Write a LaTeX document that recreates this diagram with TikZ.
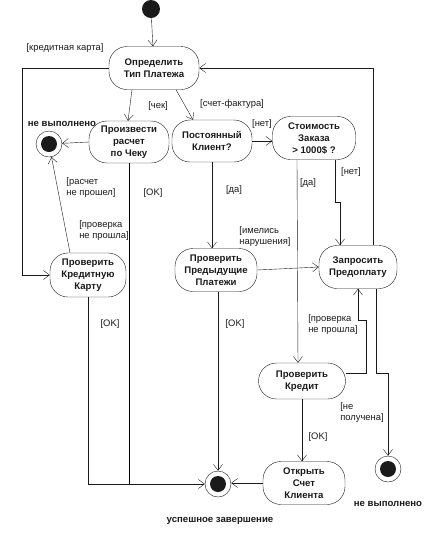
\documentclass[tikz,border=0pt]{standalone}
\usepackage{fontspec}
\setmainfont{Liberation Sans}
\usetikzlibrary{arrows.meta,calc,positioning}
\definecolor{ink}{HTML}{1A1A1A}
\tikzset{>={Straight Barb[length=6pt,width=9pt]},line width=1pt,
  every node/.style={font=\fontsize{9.4}{11}\selectfont,text=ink},
  activity/.style={draw=ink,rounded corners=18pt,align=center,inner sep=1pt,
    font=\fontsize{9.6}{12}\selectfont\bfseries},
  initial/.style={circle,fill=ink,minimum size=18pt,inner sep=0pt},
  final/.style={circle,draw=ink,minimum size=26pt,inner sep=0pt,
    path picture={\fill[ink] (path picture bounding box.center) circle (8pt);}},
  flow/.style={->,draw=ink},
  guard/.style={align=left,inner sep=1pt},
  endlabel/.style={font=\fontsize{9.6}{11}\selectfont\bfseries}}

\begin{document}
\begin{tikzpicture}[x=1pt,y=-1pt]
\useasboundingbox (0,0) rectangle (437,542);
\node[initial] (start) at (151,9) {};
\node[activity,minimum width=90pt,minimum height=43pt] (opred) at (154,68) {Определить\\Тип Платежа};
\node[activity,minimum width=80pt,minimum height=42pt] (proizv) at (129,142) {Произвести\\расчет\\по Чеку};
\node[activity,minimum width=80pt,minimum height=42pt] (postoyan) at (212,141) {Постоянный\\Клиент?};
\node[activity,minimum width=83pt,minimum height=43pt] (stoim) at (314,138) {Стоимость\\Заказа\\> 1000\$ ?};
\node[activity,minimum width=76pt,minimum height=44pt] (karta) at (88,275) {Проверить\\Кредитную\\Карту};
\node[activity,minimum width=82pt,minimum height=43pt] (predyd) at (216,270) {Проверить\\Предыдущие\\Платежи};
\node[activity,minimum width=78pt,minimum height=43pt] (zapros) at (358,267) {Запросить\\Предоплату};
\node[activity,minimum width=87pt,minimum height=36pt] (kredit) at (302,381) {Проверить\\Кредит};
\node[activity,minimum width=82pt,minimum height=43pt] (otkryt) at (304,483) {Открыть\\Счет\\Клиента};
\node[final] (fail1) at (49,144) {};
\node[final] (success) at (218,484) {};
\node[final] (fail2) at (388,469) {};

\draw[flow] (start) -- (opred);
\draw[flow] (opred.west) -- ++(-87,0) |- (karta.west);
\draw[flow] ([xshift=-22pt]opred.south) -- ([xshift=-1pt]proizv.north);
\draw[flow] ([xshift=22pt]opred.south) -- ([xshift=-19pt]postoyan.north);
\draw[flow] (proizv.west) -- (fail1);
\draw[flow] (postoyan.east) -- (postoyan.east -| stoim.west);
\draw[flow] ([xshift=-18pt]karta.north) -- (fail1);
\draw (proizv.south) -- (proizv.south |- success);
\draw[flow] (karta.south) |- (success);
\draw[flow] (postoyan.south) -- (postoyan.south |- predyd.north);
\draw[flow] (predyd.east) -- (zapros.west);
\draw[flow] (predyd.south -| success) -- (success);
\draw[flow] ([xshift=-17pt]stoim.south) -- ([xshift=-4pt]kredit.north);
\draw[flow] ([xshift=21pt]stoim.south) -- ++(0,42) -| ([xshift=-18pt]zapros.north);
\draw[flow] ([xshift=15pt]zapros.north) |- (opred.east);
\draw[flow] ([yshift=8pt]kredit.east) -- ++(20,0) -- ++(0,-53) -| (zapros.south);
\draw[flow] ([xshift=18pt]zapros.south) -- ++(0,84) -| (fail2);
\draw[flow] (kredit.south) -- (kredit.south |- otkryt.north);
\draw[flow] (otkryt.west) -- (otkryt.west -| success.east);

\node[guard] (gkarta) at (65,48) {[кредитная карта]};
\node[guard] (gchek) at (158,106) {[чек]};
\node[guard] (gschet) at (232,104) {[счет-фактура]};
\node[guard] (gnet1) at (262,124) {[нет]};
\node[guard] (graschet) at (91,188) {[расчет\\не прошел]};
\node[guard] (gprov1) at (104,231) {[проверка\\не прошла]};
\node[guard] (gok1) at (153,193) {[OK]};
\node[guard] (gda1) at (234,190) {[да]};
\node[guard] (gda2) at (308,183) {[да]};
\node[guard] (gnet2) at (351,172) {[нет]};
\node[guard] (gnarush) at (265,237) {[имелись\\нарушения]};
\node[guard] (gok2) at (110,324) {[OK]};
\node[guard] (gok3) at (235,324) {[OK]};
\node[guard] (gprov2) at (333,325) {[проверка\\не прошла]};
\node[guard] (gpoluch) at (362,413) {[не\\получена]};
\node[guard] (gok4) at (318,437) {[OK]};
\node[endlabel] (lfail1) at (62,124) {не выполнено};
\node[endlabel] (lsuccess) at (220,521) {успешное завершение};
\node[endlabel] (lfail2) at (388,504) {не выполнено};
\end{tikzpicture}
\end{document}
